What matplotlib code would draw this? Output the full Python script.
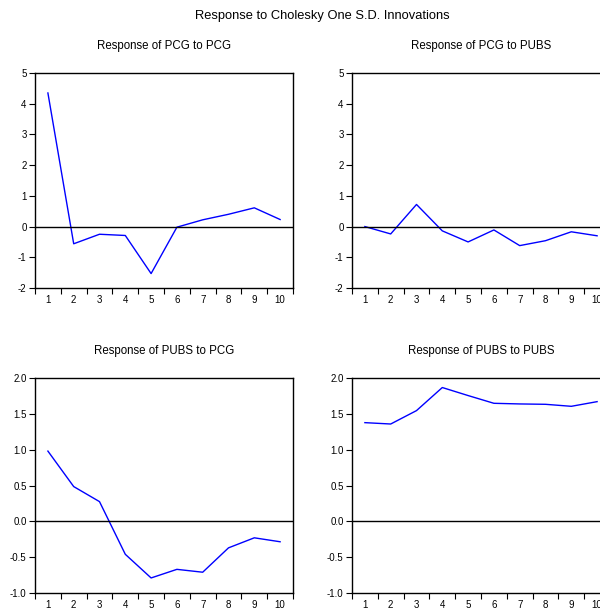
import matplotlib
matplotlib.use("Agg")
import matplotlib.pyplot as plt
from matplotlib.ticker import FixedLocator, NullFormatter

plt.rcParams['font.family'] = ['Liberation Sans Narrow', 'Liberation Sans', 'DejaVu Sans']
plt.rcParams['axes.unicode_minus'] = False

periods = list(range(1, 11))
pcg_to_pcg = [4.35, -0.56, -0.25, -0.29, -1.53, -0.02, 0.22, 0.40, 0.61, 0.23]
pcg_to_pubs = [0.0, -0.24, 0.72, -0.14, -0.50, -0.11, -0.62, -0.46, -0.17, -0.30]
pubs_to_pcg = [0.98, 0.485, 0.275, -0.46, -0.79, -0.67, -0.71, -0.37, -0.23, -0.285]
pubs_to_pubs = [1.377, 1.358, 1.545, 1.867, 1.755, 1.647, 1.638, 1.633, 1.605, 1.67]

titles = ["Response of PCG to PCG", "Response of PCG to PUBS",
          "Response of PUBS to PCG", "Response of PUBS to PUBS"]
series = [pcg_to_pcg, pcg_to_pubs, pubs_to_pcg, pubs_to_pubs]
top_ticks = [5, 4, 3, 2, 1, 0, -1, -2]
bot_ticks = [2.0, 1.5, 1.0, 0.5, 0.0, -0.5, -1.0]

W, H = 600, 611
fig = plt.figure(figsize=(W / 100, H / 100), dpi=100)

boxes = [(35, 73), (352, 73), (35, 378), (352, 378)]
aw, ah = 258, 215

for i, ((lx, ty), title, ys) in enumerate(zip(boxes, titles, series)):
    ax = fig.add_axes([lx / W, 1 - (ty + ah) / H, aw / W, ah / H])
    ax.plot(periods, ys, color='#0000FF', lw=1.0)
    ax.axhline(0, color='black', lw=1.0)
    ax.set_xlim(0.5, 10.5)
    if i < 2:
        ax.set_ylim(-2, 5)
        ax.set_yticks(top_ticks)
        ax.set_yticklabels([str(t) for t in top_ticks])
    else:
        ax.set_ylim(-1, 2)
        ax.set_yticks(bot_ticks)
        ax.set_yticklabels([f"{t:.1f}" for t in bot_ticks])
    ax.set_xticks(periods)
    ax.set_xticklabels([str(p) for p in periods])
    ax.xaxis.set_minor_locator(FixedLocator([p + 0.5 for p in range(0, 11)]))
    ax.xaxis.set_minor_formatter(NullFormatter())
    ax.tick_params(axis='x', which='major', length=0, labelsize=7, pad=5)
    ax.tick_params(axis='x', which='minor', length=4, width=0.8, direction='out')
    ax.tick_params(axis='y', which='major', length=4, width=0.8, direction='out', labelsize=7, pad=2)
    for s in ax.spines.values():
        s.set_linewidth(1.0)
        s.set_color('black')
    fig.text((lx + aw / 2) / W, 1 - (ty - 27) / H, title, ha='center', va='center', fontsize=8.3)

fig.text(322 / W, 1 - 16 / H, "Response to Cholesky One S.D. Innovations",
         ha='center', va='center', fontsize=9.3)

fig.savefig("out.png", dpi=100)
